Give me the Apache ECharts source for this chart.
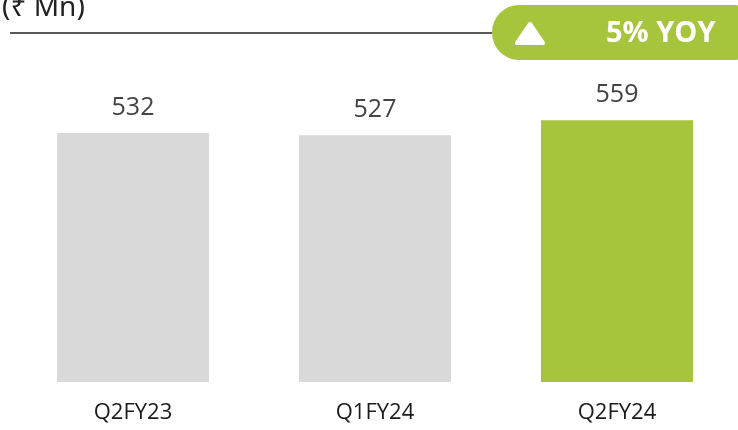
<!DOCTYPE html>
<html>
<head>
<meta charset="utf-8">
<script src="https://cdn.jsdelivr.net/npm/echarts@6/dist/echarts.min.js"></script>
<style>
  html, body { margin: 0; padding: 0; background: #fff; }
  #main { width: 738px; height: 430px; }
</style>
</head>
<body>
<div id="main"></div>
<script>
var categories = ['Q2FY23', 'Q1FY24', 'Q2FY24'];
var values = [532, 527, 559];
var barColors = ['#d9d9d9', '#d9d9d9', '#a7c53c'];
var unitLabel = '(₹ Mn)';

var yoy = Math.round((values[2] - values[0]) / values[0] * 100);

var chartDom = document.getElementById('main');
var myChart = echarts.init(chartDom);
var option;

option = {
  animation: false,
  grid: {
    left: 12,
    right: 0,
    top: 50,
    bottom: 48
  },
  xAxis: {
    type: 'category',
    data: categories,
    axisLine: { show: false },
    axisTick: { show: false },
    axisLabel: {
      margin: 20,
      fontSize: 22,
      color: '#1a1a1a',
      fontFamily: 'Open Sans'
    }
  },
  yAxis: {
    type: 'value',
    min: 0,
    max: 709,
    show: false,
    splitLine: { show: false }
  },
  graphic: [
    {
      type: 'text',
      left: 2,
      top: -6,
      style: {
        text: unitLabel,
        fontSize: 28,
        fontFamily: 'Noto Sans, DejaVu Sans',
        fill: '#222'
      }
    },
    {
      type: 'line',
      shape: { x1: 10, y1: 33, x2: 495, y2: 33 },
      style: { stroke: '#222', lineWidth: 1.5 }
    },
    {
      type: 'rect',
      shape: { x: 492, y: 5, width: 270, height: 55, r: 27 },
      style: { fill: '#a7c53c' }
    },
    {
      type: 'polygon',
      shape: { points: [[530, 24], [543, 43], [517, 43]] },
      style: { fill: '#fff', stroke: '#fff', lineWidth: 4, lineJoin: 'round' }
    },
    {
      type: 'text',
      x: 606,
      y: 34,
      style: {
        text: yoy + '% YOY',
        fontSize: 29,
        fontWeight: 'bold',
        fontFamily: 'Open Sans',
        fill: '#fff',
        verticalAlign: 'middle'
      }
    }
  ],
  series: [
    {
      type: 'bar',
      barWidth: 152,
      data: values.map(function (v, i) {
        return { value: v, itemStyle: { color: barColors[i] } };
      }),
      label: {
        show: true,
        position: 'top',
        distance: 13,
        fontSize: 25,
        color: '#444',
        fontFamily: 'Open Sans'
      }
    }
  ]
};

myChart.setOption(option);
</script>
</body>
</html>
